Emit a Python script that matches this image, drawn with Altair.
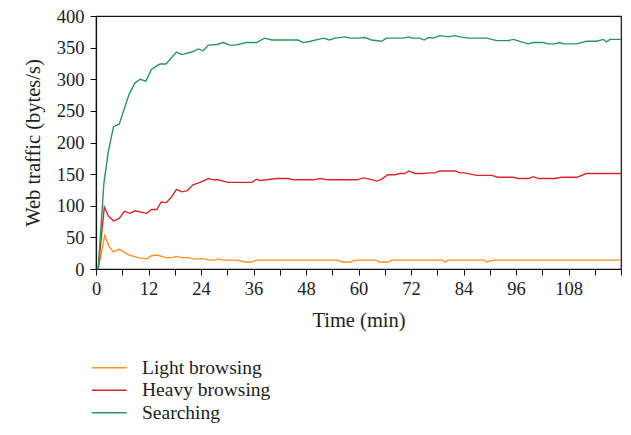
import altair as alt
import pandas as pd

series_names = ["Light browsing", "Heavy browsing", "Searching"]
series_colors = ["#F7941E", "#D7262E", "#27965C"]

light_t = [0.5, 2.0, 3.05, 4.0, 5.3, 7.6, 9.7, 11.6, 12.7, 13.9, 16.0, 17.3, 18.4, 19.6, 21.1, 22.2,
           24.9, 25.7, 27.2, 28.0, 29.1, 32.2, 34.0, 35.6, 36.7, 55.0, 56.5, 58.0, 59.5, 64.0, 64.8,
           66.8, 67.6, 79.3, 79.8, 80.4, 88.8, 89.3, 90.8, 120.0]
light_v = [0, 53, 35, 27, 31, 22, 18, 16, 21, 22, 18, 18, 20, 18, 18, 16,
           16, 14, 14, 16, 14, 14, 11, 11, 14, 14, 11, 11, 14, 14, 11,
           11, 14, 14, 11, 14, 14, 11, 14, 14]

heavy_t = [0.5, 1.9, 2.8, 4.0, 5.3, 6.5, 7.8, 8.9, 11.6, 12.7, 13.9, 14.9, 16.1, 17.3, 18.4, 19.6,
           20.9, 22.2, 23.8, 25.7, 26.8, 27.9, 30.2, 35.6, 36.7, 37.4, 39.0, 41.3, 43.9, 45.1, 49.7,
           51.2, 53.1, 59.6, 61.1, 62.6, 64.2, 65.3, 66.7, 68.3, 69.5, 70.6, 71.5, 72.9, 74.8, 75.9,
           77.4, 78.6, 82.1, 83.2, 84.3, 87.0, 90.4, 91.9, 95.3, 96.5, 98.8, 100.0, 101.1, 104.9,
           106.4, 109.9, 112.1, 120.0]
heavy_v = [0, 98, 84, 76, 80, 91, 88, 92, 88, 94, 94, 106, 105, 114, 126, 122,
           124, 133, 137, 143, 141, 141, 137, 137, 142, 140, 141, 143, 143, 141, 141,
           143, 141, 141, 144, 142, 139, 142, 149, 149, 151, 151, 155, 151, 151, 152,
           152, 155, 155, 152, 152, 148, 148, 145, 145, 143, 143, 146, 143, 143,
           145, 145, 151, 151]

search_t = [0.5, 1.8, 2.8, 4.0, 5.3, 7.6, 8.9, 10.1, 11.4, 12.7, 14.6, 16.0, 18.4, 19.6, 21.9, 23.4,
            24.5, 25.7, 27.6, 29.1, 30.6, 31.8, 34.4, 36.7, 38.5, 40.2, 46.2, 47.4, 49.0, 52.0,
            53.3, 54.6, 56.9, 58.0, 59.6, 61.5, 63.0, 65.3, 66.4, 70.2, 71.5, 72.2, 74.0, 75.0,
            76.0, 77.1, 78.6, 80.5, 82.1, 83.2, 85.1, 89.3, 91.6, 94.2, 95.4, 97.3, 98.8, 100.0,
            102.2, 103.4, 104.9, 106.0, 106.8, 109.9, 112.1, 114.4, 116.0, 116.7, 117.5, 120.0]
search_v = [0, 135, 185, 225, 229, 277, 294, 300, 297, 316, 324, 324, 343, 339, 343, 348,
            345, 354, 355, 358, 354, 354, 358, 358, 365, 362, 362, 358, 360, 365,
            362, 365, 367, 365, 365, 366, 362, 360, 365, 365, 367, 365, 365, 362,
            366, 365, 369, 367, 369, 367, 365, 365, 361, 361, 363, 359, 356, 358,
            358, 356, 356, 358, 356, 356, 360, 360, 363, 359, 363, 363]

x_ticks = list(range(0, 121, 6))
y_ticks = list(range(0, 401, 50))

frames = []
for name, ts, vs in [(series_names[0], light_t, light_v),
                     (series_names[1], heavy_t, heavy_v),
                     (series_names[2], search_t, search_v)]:
    frames.append(pd.DataFrame({"t": ts, "v": vs, "series": name}))
df = pd.concat(frames, ignore_index=True)

FONT = "Liberation Serif"

chart = alt.Chart(df).mark_line(strokeWidth=1.4).encode(
    x=alt.X("t:Q", scale=alt.Scale(domain=[0, 120], nice=False, zero=True),
            axis=alt.Axis(title="Time (min)", values=x_ticks,
                          labelExpr="datum.value % 12 == 0 && datum.value < 120 ? datum.label : ''",
                          grid=False, tickSize=6, labelPadding=4, titlePadding=13,
                          labelFlush=False, labelOverlap=False)),
    y=alt.Y("v:Q", scale=alt.Scale(domain=[0, 400], nice=False),
            axis=alt.Axis(title="Web traffic (bytes/s)", values=y_ticks, grid=False,
                          tickSize=6, labelPadding=6, titlePadding=13)),
    color=alt.Color("series:N",
                    scale=alt.Scale(domain=series_names, range=series_colors),
                    legend=alt.Legend(title=None, orient="none", legendX=3.5, legendY=342,
                                      symbolType="M-3.5,0H3.5", symbolSize=100,
                                      symbolStrokeWidth=1.5, rowPadding=1.5,
                                      labelOffset=23, labelFontSize=19.5, labelFont=FONT,
                                      labelColor="#222")),
    detail="series:N",
).properties(
    width=525, height=253,
    autosize=alt.AutoSizeParams(type="none"),
    padding={"left": 88, "top": 8, "right": 2, "bottom": 156},
).configure_view(
    stroke="#111", strokeWidth=1.2
).configure_axis(
    labelFont=FONT, titleFont=FONT, labelFontSize=18.5, titleFontSize=20.5,
    titleFontWeight="normal", labelColor="#222", titleColor="#222",
    domainColor="#111", tickColor="#111", domainWidth=1.2
)

chart.save("out.html", embed_options={"renderer": "svg", "actions": False})
